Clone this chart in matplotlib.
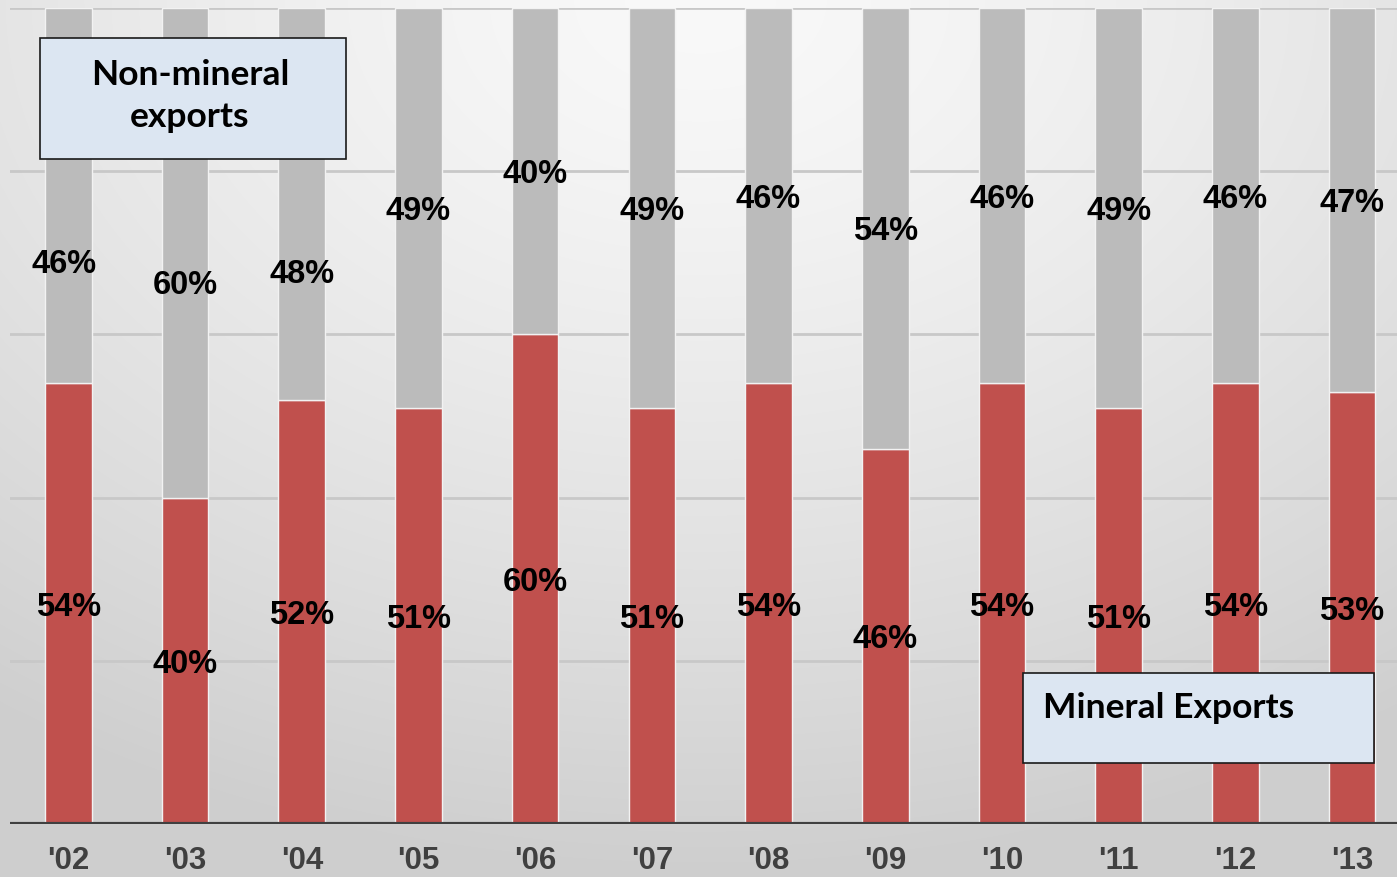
import numpy as np
import matplotlib.pyplot as plt
from matplotlib.patches import Rectangle

# export shares by year (percent)
years = ["'02", "'03", "'04", "'05", "'06", "'07", "'08", "'09", "'10", "'11", "'12", "'13"]
mineral = [54, 40, 52, 51, 60, 51, 54, 46, 54, 51, 54, 53]
non_mineral = [46, 60, 48, 49, 40, 49, 46, 54, 46, 49, 46, 47]

# upper labels for the first three years are pushed down under the text box
upper_label_y = [69, 66.4, 67.8, None, None, None, None, None, None, None, None, None]
upper_label_dx = [-0.04, 0, 0, 0, 0, 0, 0, 0, 0, 0, 0, 0]

RED = '#C0504D'
GREY = '#BBBBBB'

W, H = 1397, 878
fig = plt.figure(figsize=(W / 100, H / 100), dpi=100)

# soft background shading, lightest at top centre
bg = fig.add_axes([0, 0, 1, 1], zorder=0)
yy, xx = np.mgrid[0:H, 0:W]
r = np.sqrt(((xx - 700) / 1225.0) ** 2 + (yy / 878.0) ** 2)
shade = (249 - 43 * np.clip(r, 0, 1) ** 1.35) / 255.0
bg.imshow(np.dstack([shade] * 3), aspect='auto', extent=[0, 1, 0, 1], origin='upper')
bg.axis('off')

left = 10 / W
bottom = (H - 825) / H
height = (825 - 9) / H
width = 12 * 116.7 / W
ax = fig.add_axes([left, bottom, width, height], zorder=1)
ax.patch.set_alpha(0)

x = np.arange(len(years))
ax.bar(x, mineral, width=0.40, color=RED, edgecolor='#F2F2F2', linewidth=1, zorder=3)
ax.bar(x, non_mineral, width=0.40, bottom=mineral, color=GREY, edgecolor='#F2F2F2',
       linewidth=1, zorder=3)

ax.set_xlim(-0.5, 11.5)
ax.set_ylim(0, 100)
for g in [20, 40, 60, 80, 100]:
    ax.axhline(g, color='#C8C8C8', linewidth=2, zorder=1)
ax.axhline(0, color='#404040', linewidth=3, zorder=4)

lab_font = dict(family='Liberation Sans', fontsize=23.5, fontweight='bold', color='black')
for i in range(len(years)):
    ax.text(x[i], mineral[i] / 2 - 0.3, f'{mineral[i]}%', ha='center', va='center', zorder=5,
            **lab_font)
    yu = upper_label_y[i] if upper_label_y[i] is not None else mineral[i] + non_mineral[i] / 2
    ax.text(x[i] + upper_label_dx[i], yu - 0.3, f'{non_mineral[i]}%', ha='center', va='center',
            zorder=5, **lab_font)

ax.set_xticks(x)
ax.set_xticklabels(years, fontsize=22.5, fontweight='bold', color='#404040', family='Liberation Sans')
ax.tick_params(axis='x', length=0, pad=15)
ax.set_yticks([])
for s in ax.spines.values():
    s.set_visible(False)

# annotation boxes
box_font = dict(family='Lato', fontsize=25.5, fontweight='bold', color='black')
fig.patches.append(Rectangle((40 / W, 1 - 160 / H), 306 / W, 121 / H, transform=fig.transFigure,
                             facecolor='#DCE6F2', edgecolor='#1a1a1a', linewidth=1.2, zorder=6))
fig.text(190 / W, 1 - 96 / H, 'Non-mineral\nexports', ha='center', va='center',
         linespacing=1.4, zorder=7, **box_font)
fig.patches.append(Rectangle((1023 / W, 1 - 764 / H), 351 / W, 90 / H, transform=fig.transFigure,
                             facecolor='#DCE6F2', edgecolor='#1a1a1a', linewidth=1.2, zorder=6))
fig.text(1043 / W, 1 - 708 / H, 'Mineral Exports', ha='left', va='center', zorder=7, **box_font)

fig.savefig('out.png', dpi=100)
